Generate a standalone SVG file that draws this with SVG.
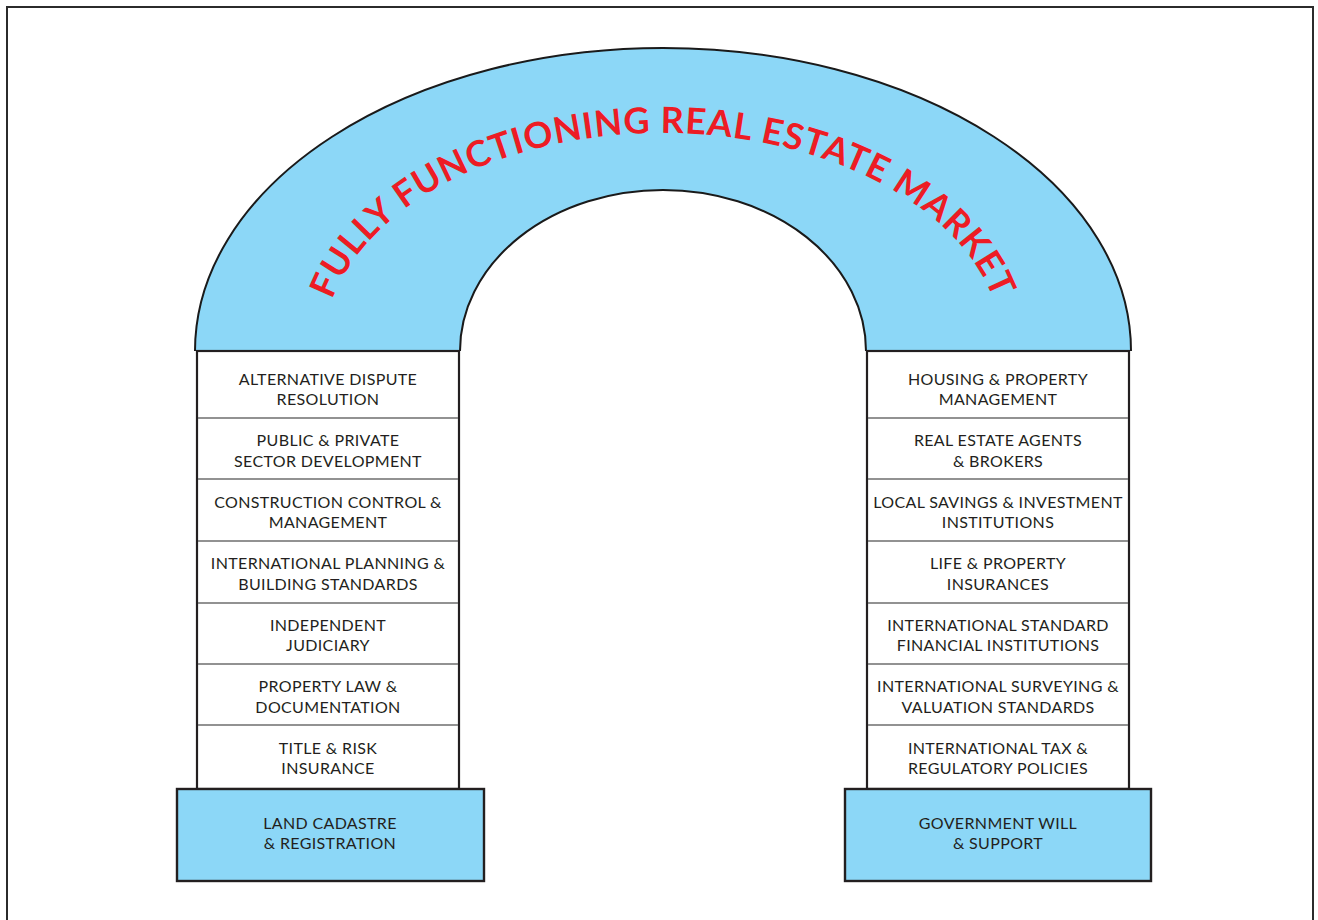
<svg xmlns="http://www.w3.org/2000/svg" width="1318" height="920" viewBox="0 0 1318 920">
  <defs>
    <style>
      .frame { fill: #ffffff; stroke: #2b2b2b; stroke-width: 2; }
      .arch { fill: #8cd7f7; stroke: none; }
      .arch-edge { fill: none; stroke: #1a1a1a; stroke-width: 2; }
      .col { fill: #ffffff; stroke: #231f20; stroke-width: 2.2; }
      .divider { stroke: #6e6e6e; stroke-width: 1.3; }
      .base { fill: #8cd7f7; stroke: #231f20; stroke-width: 2.4; }
      .label { font-family: Lato, "Open Sans", "Liberation Sans", sans-serif; font-size: 16px; letter-spacing: 0.35px; fill: #231f20; text-anchor: middle; }
      .title { font-family: Lato, "Open Sans", "Liberation Sans", sans-serif; font-size: 36px; font-weight: 700; fill: #ed1c24; letter-spacing: 0.9px; }
    </style>
    <!-- baseline curve for the arch title -->
    <path id="titleCurve" d="M 323 350 A 340 217 0 0 1 1003 350"/>
  </defs>

  <!-- page frame -->
  <rect class="frame" x="7" y="7" width="1306" height="940"/>

  <!-- arch band -->
  <g id="arch">
    <path class="arch" d="M 195 351 A 468 303 0 0 1 1131 351 L 866 351 A 203 161 0 0 0 460 351 Z"/>
    <path class="arch-edge" d="M 195 351 A 468 303 0 0 1 1131 351"/>
    <path class="arch-edge" d="M 460 351 A 203 161 0 0 1 866 351"/>
    <text class="title"><textPath href="#titleCurve" startOffset="50%" text-anchor="middle">FULLY FUNCTIONING REAL ESTATE MARKET</textPath></text>
  </g>

  <!-- left pillar -->
  <g id="left-pillar">
    <rect class="col" x="197" y="351" width="262" height="438"/>
    <line class="divider" x1="198" y1="418" x2="458" y2="418"/>
    <line class="divider" x1="198" y1="479" x2="458" y2="479"/>
    <line class="divider" x1="198" y1="541" x2="458" y2="541"/>
    <line class="divider" x1="198" y1="603" x2="458" y2="603"/>
    <line class="divider" x1="198" y1="664" x2="458" y2="664"/>
    <line class="divider" x1="198" y1="725" x2="458" y2="725"/>
  </g>
  <g id="l1"><text class="label" x="328" y="384.5">ALTERNATIVE DISPUTE</text><text class="label" x="328" y="404.5">RESOLUTION</text></g>
  <g id="l2"><text class="label" x="328" y="445.5">PUBLIC &amp; PRIVATE</text><text class="label" x="328" y="466.5">SECTOR DEVELOPMENT</text></g>
  <g id="l3"><text class="label" x="328" y="507.5">CONSTRUCTION CONTROL &amp;</text><text class="label" x="328" y="527.5">MANAGEMENT</text></g>
  <g id="l4"><text class="label" x="328" y="568.5">INTERNATIONAL PLANNING &amp;</text><text class="label" x="328" y="589.5">BUILDING STANDARDS</text></g>
  <g id="l5"><text class="label" x="328" y="630.5">INDEPENDENT</text><text class="label" x="328" y="650.5">JUDICIARY</text></g>
  <g id="l6"><text class="label" x="328" y="691.5">PROPERTY LAW &amp;</text><text class="label" x="328" y="712.5">DOCUMENTATION</text></g>
  <g id="l7"><text class="label" x="328" y="753.5">TITLE &amp; RISK</text><text class="label" x="328" y="773.5">INSURANCE</text></g>
  <g id="left-base">
    <rect class="base" x="177" y="789" width="307" height="92"/>
    <text class="label" x="330" y="828.5">LAND CADASTRE</text>
    <text class="label" x="330" y="848.5">&amp; REGISTRATION</text>
  </g>

  <!-- right pillar -->
  <g id="right-pillar">
    <rect class="col" x="867" y="351" width="262" height="438"/>
    <line class="divider" x1="868" y1="418" x2="1128" y2="418"/>
    <line class="divider" x1="868" y1="479" x2="1128" y2="479"/>
    <line class="divider" x1="868" y1="541" x2="1128" y2="541"/>
    <line class="divider" x1="868" y1="603" x2="1128" y2="603"/>
    <line class="divider" x1="868" y1="664" x2="1128" y2="664"/>
    <line class="divider" x1="868" y1="725" x2="1128" y2="725"/>
  </g>
  <g id="r1"><text class="label" x="998" y="384.5">HOUSING &amp; PROPERTY</text><text class="label" x="998" y="404.5">MANAGEMENT</text></g>
  <g id="r2"><text class="label" x="998" y="445.5">REAL ESTATE AGENTS</text><text class="label" x="998" y="466.5">&amp; BROKERS</text></g>
  <g id="r3"><text class="label" x="998" y="507.5">LOCAL SAVINGS &amp; INVESTMENT</text><text class="label" x="998" y="527.5">INSTITUTIONS</text></g>
  <g id="r4"><text class="label" x="998" y="568.5">LIFE &amp; PROPERTY</text><text class="label" x="998" y="589.5">INSURANCES</text></g>
  <g id="r5"><text class="label" x="998" y="630.5">INTERNATIONAL STANDARD</text><text class="label" x="998" y="650.5">FINANCIAL INSTITUTIONS</text></g>
  <g id="r6"><text class="label" x="998" y="691.5">INTERNATIONAL SURVEYING &amp;</text><text class="label" x="998" y="712.5">VALUATION STANDARDS</text></g>
  <g id="r7"><text class="label" x="998" y="753.5">INTERNATIONAL TAX &amp;</text><text class="label" x="998" y="773.5">REGULATORY POLICIES</text></g>
  <g id="right-base">
    <rect class="base" x="845" y="789" width="306" height="92"/>
    <text class="label" x="998" y="828.5">GOVERNMENT WILL</text>
    <text class="label" x="998" y="848.5">&amp; SUPPORT</text>
  </g>
</svg>
